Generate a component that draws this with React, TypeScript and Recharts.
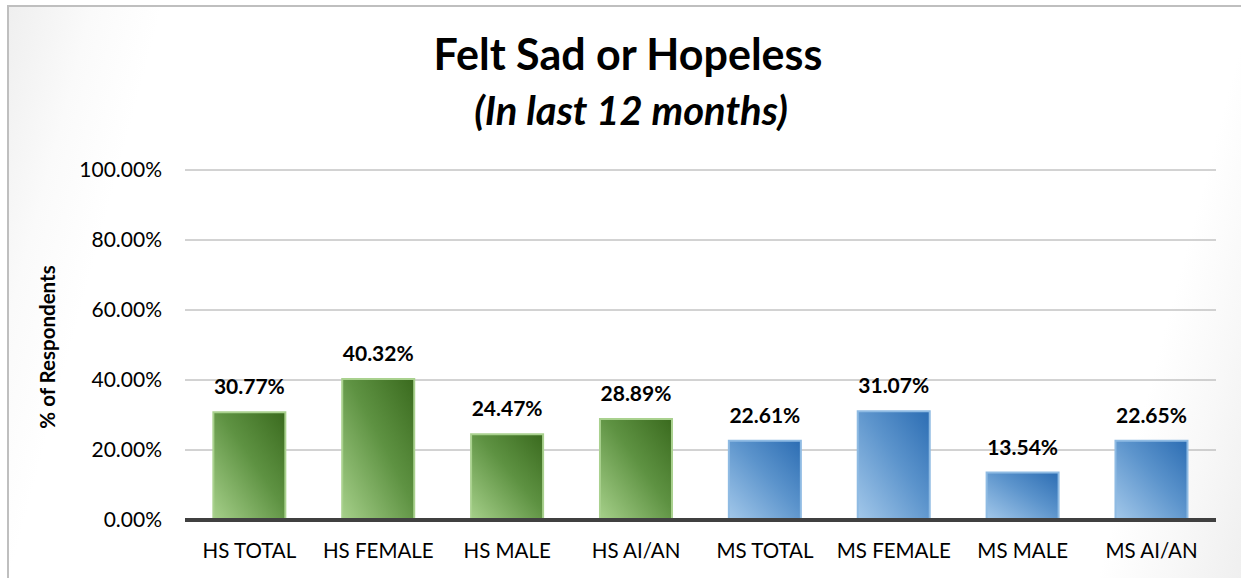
import { BarChart, Bar, XAxis, YAxis, CartesianGrid, Cell, LabelList } from 'recharts'

const categories = ['HS TOTAL', 'HS FEMALE', 'HS MALE', 'HS AI/AN', 'MS TOTAL', 'MS FEMALE', 'MS MALE', 'MS AI/AN']
const values = [30.77, 40.32, 24.47, 28.89, 22.61, 31.07, 13.54, 22.65]
const yTicks = [0, 20, 40, 60, 80, 100]

const data = categories.map((name, i) => ({ name, value: values[i] }))

const FONT = 'Lato, "Open Sans", sans-serif'

const pct = (v: number) => `${v.toFixed(2)}%`

function AxisTitle(props: any) {
  const cy = props.viewBox ? props.viewBox.y + props.viewBox.height / 2 : 345
  return (
    <text
      x={0}
      y={0}
      transform={`translate(55, ${cy + 2}) rotate(-90)`}
      textAnchor="middle"
      fontFamily={FONT}
      fontWeight={700}
      fontSize={20.5}
      fill="#000"
    >
      % of Respondents
    </text>
  )
}

export default function App() {
  return (
    <div
      style={{
        position: 'absolute',
        left: 0,
        top: 0,
        width: 1241,
        height: 578,
        overflow: 'hidden',
        background: '#fff',
      }}
    >
      <div
        style={{
          position: 'absolute',
          left: 7,
          top: 5,
          width: 1240,
          height: 580,
          borderLeft: '2px solid #bfbfbf',
          borderTop: '2px solid #bfbfbf',
          background:
            'linear-gradient(105deg, #efefef 0%, #fafafa 6%, #ffffff 11%, #ffffff 89%, #f8f8f8 94%, #eeeeee 100%)',
        }}
      />
      <svg style={{ position: 'absolute', left: 0, top: 0 }} width={1241} height={578}>
        <text x={628} y={70} textAnchor="middle" fontFamily={FONT} fontWeight={700} fontSize={43} fill="#000">
          Felt Sad or Hopeless
        </text>
        <text
          x={631}
          y={125}
          textAnchor="middle"
          fontFamily={FONT}
          fontWeight={700}
          fontStyle="italic"
          fontSize={40}
          fill="#000"
        >
          (In last 12 months)
        </text>
      </svg>
      <div style={{ position: 'absolute', left: 0, top: 0 }}>
        <BarChart
          width={1241}
          height={578}
          data={data}
          margin={{ top: 170, right: 25, bottom: 18, left: 105 }}
          barCategoryGap="22%"
        >
          <defs>
            <linearGradient id="greenGrad" x1="1" y1="0" x2="0" y2="1">
              <stop offset="0%" stopColor="#3a6a1e" />
              <stop offset="45%" stopColor="#5e9242" />
              <stop offset="100%" stopColor="#a6d08a" />
            </linearGradient>
            <linearGradient id="blueGrad" x1="1" y1="0" x2="0" y2="1">
              <stop offset="0%" stopColor="#2c6db3" />
              <stop offset="45%" stopColor="#5c94cc" />
              <stop offset="100%" stopColor="#a3c8ea" />
            </linearGradient>
          </defs>
          <CartesianGrid vertical={false} stroke="#a6a6a6" strokeWidth={1} />
          <XAxis
            dataKey="name"
            height={40}
            axisLine={{ stroke: '#404040', strokeWidth: 4 }}
            tickLine={false}
            tickMargin={17}
            tick={{ fontSize: 20.5, fill: '#000', fontFamily: FONT }}
            interval={0}
          />
          <YAxis
            width={80}
            domain={[0, 100]}
            ticks={yTicks}
            tickFormatter={pct}
            axisLine={false}
            tickLine={false}
            tickMargin={17}
            tick={{ fontSize: 21, fill: '#000', fontFamily: FONT }}
            label={<AxisTitle />}
          />
          <Bar dataKey="value" isAnimationActive={false} strokeWidth={2}>
            {data.map((d) => (
              <Cell
                key={d.name}
                fill={d.name.startsWith('HS') ? 'url(#greenGrad)' : 'url(#blueGrad)'}
                stroke={d.name.startsWith('HS') ? '#a9d18e' : '#8fbbe3'}
              />
            ))}
            <LabelList
              dataKey="value"
              position="top"
              offset={18}
              formatter={(v: any) => pct(Number(v))}
              style={{ fontSize: 21, fontWeight: 700, fill: '#000', fontFamily: FONT }}
            />
          </Bar>
        </BarChart>
      </div>
    </div>
  )
}
